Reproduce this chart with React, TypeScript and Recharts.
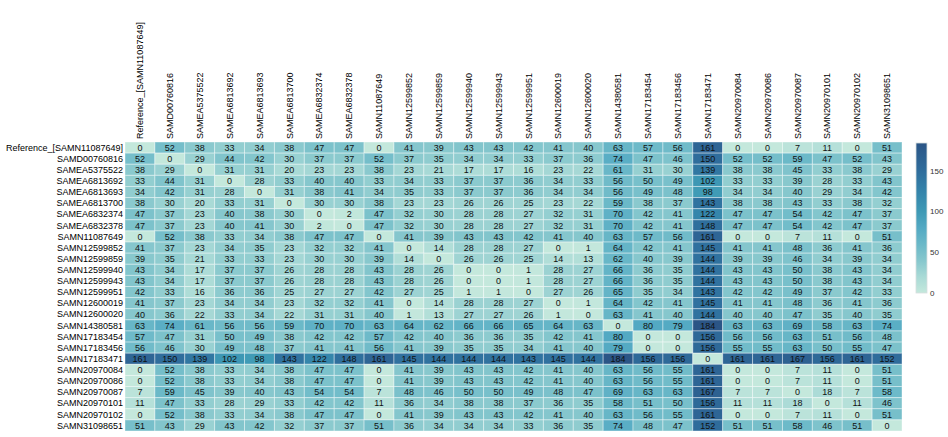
import { ScatterChart, Scatter, XAxis, YAxis } from 'recharts';

const samples = [
  'Reference_[SAMN11087649]', 'SAMD00760816', 'SAMEA5375522', 'SAMEA6813692', 'SAMEA6813693',
  'SAMEA6813700', 'SAMEA6832374', 'SAMEA6832378', 'SAMN11087649', 'SAMN12599852',
  'SAMN12599859', 'SAMN12599940', 'SAMN12599943', 'SAMN12599951', 'SAMN12600019',
  'SAMN12600020', 'SAMN14380581', 'SAMN17183454', 'SAMN17183456', 'SAMN17183471',
  'SAMN20970084', 'SAMN20970086', 'SAMN20970087', 'SAMN20970101', 'SAMN20970102',
  'SAMN31098651',
];

// pairwise SNP distances, one row per sample
const distances = [
  [0, 52, 38, 33, 34, 38, 47, 47, 0, 41, 39, 43, 43, 42, 41, 40, 63, 57, 56, 161, 0, 0, 7, 11, 0, 51],
  [52, 0, 29, 44, 42, 30, 37, 37, 52, 37, 35, 34, 34, 33, 37, 36, 74, 47, 46, 150, 52, 52, 59, 47, 52, 43],
  [38, 29, 0, 31, 31, 20, 23, 23, 38, 23, 21, 17, 17, 16, 23, 22, 61, 31, 30, 139, 38, 38, 45, 33, 38, 29],
  [33, 44, 31, 0, 28, 33, 40, 40, 33, 34, 33, 37, 37, 36, 34, 33, 56, 50, 49, 102, 33, 33, 39, 28, 33, 43],
  [34, 42, 31, 28, 0, 31, 38, 41, 34, 35, 33, 37, 37, 36, 34, 34, 56, 49, 48, 98, 34, 34, 40, 29, 34, 42],
  [38, 30, 20, 33, 31, 0, 30, 30, 38, 23, 23, 26, 26, 25, 23, 22, 59, 38, 37, 143, 38, 38, 43, 33, 38, 32],
  [47, 37, 23, 40, 38, 30, 0, 2, 47, 32, 30, 28, 28, 27, 32, 31, 70, 42, 41, 122, 47, 47, 54, 42, 47, 37],
  [47, 37, 23, 40, 41, 30, 2, 0, 47, 32, 30, 28, 28, 27, 32, 31, 70, 42, 41, 148, 47, 47, 54, 42, 47, 37],
  [0, 52, 38, 33, 34, 38, 47, 47, 0, 41, 39, 43, 43, 42, 41, 40, 63, 57, 56, 161, 0, 0, 7, 11, 0, 51],
  [41, 37, 23, 34, 35, 23, 32, 32, 41, 0, 14, 28, 28, 27, 0, 1, 64, 42, 41, 145, 41, 41, 48, 36, 41, 36],
  [39, 35, 21, 33, 33, 23, 30, 30, 39, 14, 0, 26, 26, 25, 14, 13, 62, 40, 39, 144, 39, 39, 46, 34, 39, 34],
  [43, 34, 17, 37, 37, 26, 28, 28, 43, 28, 26, 0, 0, 1, 28, 27, 66, 36, 35, 144, 43, 43, 50, 38, 43, 34],
  [43, 34, 17, 37, 37, 26, 28, 28, 43, 28, 26, 0, 0, 1, 28, 27, 66, 36, 35, 144, 43, 43, 50, 38, 43, 34],
  [42, 33, 16, 36, 36, 25, 27, 27, 42, 27, 25, 1, 1, 0, 27, 26, 65, 35, 34, 143, 42, 42, 49, 37, 42, 33],
  [41, 37, 23, 34, 34, 23, 32, 32, 41, 0, 14, 28, 28, 27, 0, 1, 64, 42, 41, 145, 41, 41, 48, 36, 41, 36],
  [40, 36, 22, 33, 34, 22, 31, 31, 40, 1, 13, 27, 27, 26, 1, 0, 63, 41, 40, 144, 40, 40, 47, 35, 40, 35],
  [63, 74, 61, 56, 56, 59, 70, 70, 63, 64, 62, 66, 66, 65, 64, 63, 0, 80, 79, 184, 63, 63, 69, 58, 63, 74],
  [57, 47, 31, 50, 49, 38, 42, 42, 57, 42, 40, 36, 36, 35, 42, 41, 80, 0, 0, 156, 56, 56, 63, 51, 56, 48],
  [56, 46, 30, 49, 48, 37, 41, 41, 56, 41, 39, 35, 35, 34, 41, 40, 79, 0, 0, 156, 55, 55, 63, 50, 55, 47],
  [161, 150, 139, 102, 98, 143, 122, 148, 161, 145, 144, 144, 144, 143, 145, 144, 184, 156, 156, 0, 161, 161, 167, 156, 161, 152],
  [0, 52, 38, 33, 34, 38, 47, 47, 0, 41, 39, 43, 43, 42, 41, 40, 63, 56, 55, 161, 0, 0, 7, 11, 0, 51],
  [0, 52, 38, 33, 34, 38, 47, 47, 0, 41, 39, 43, 43, 42, 41, 40, 63, 56, 55, 161, 0, 0, 7, 11, 0, 51],
  [7, 59, 45, 39, 40, 43, 54, 54, 7, 48, 46, 50, 50, 49, 48, 47, 69, 63, 63, 167, 7, 7, 0, 18, 7, 58],
  [11, 47, 33, 28, 29, 33, 42, 42, 11, 36, 34, 38, 38, 37, 36, 35, 58, 51, 50, 156, 11, 11, 18, 0, 11, 46],
  [0, 52, 38, 33, 34, 38, 47, 47, 0, 41, 39, 43, 43, 42, 41, 40, 63, 56, 55, 161, 0, 0, 7, 11, 0, 51],
  [51, 43, 29, 43, 42, 32, 37, 37, 51, 36, 34, 34, 34, 33, 36, 35, 74, 48, 47, 152, 51, 51, 58, 46, 51, 0],
];

const colorbarTicks = [0, 50, 100, 150];
const maxValue = 184;

const stops: [number, number[]][] = [
  [0, [196, 232, 220]],
  [20, [169, 218, 214]],
  [40, [134, 199, 205]],
  [60, [106, 184, 200]],
  [80, [83, 169, 195]],
  [100, [62, 153, 181]],
  [125, [52, 131, 170]],
  [150, [47, 109, 156]],
  [184, [43, 85, 134]],
];

function colorFor(v: number) {
  for (let i = 1; i < stops.length; i++) {
    const [v1, c1] = stops[i];
    const [v0, c0] = stops[i - 1];
    if (v <= v1) {
      const t = (v - v0) / (v1 - v0);
      const c = c0.map((a, k) => Math.round(a + (c1[k] - a) * t));
      return `rgb(${c[0]},${c[1]},${c[2]})`;
    }
  }
  const c = stops[stops.length - 1][1];
  return `rgb(${c[0]},${c[1]},${c[2]})`;
}

const W = 948;
const H = 437;
const margin = { top: 0, right: 46, bottom: 6, left: 0 };
const yAxisW = 125;
const xAxisH = 142;
const plotW = W - margin.right - yAxisW;
const plotH = H - margin.bottom - xAxisH;
const n = samples.length;
const cellW = plotW / n;
const cellH = plotH / n;

const cells = distances.flatMap((row, r) =>
  row.map((v, c) => ({ x: c + 0.5, y: r + 0.5, v }))
);
const ticks = samples.map((_, i) => i + 0.5);
const font = '"Liberation Sans", Arial, sans-serif';

const CellShape = (props: any) => {
  const { cx, cy, payload } = props;
  return (
    <g>
      <rect
        x={cx - cellW / 2}
        y={cy - cellH / 2}
        width={cellW}
        height={cellH}
        fill={colorFor(payload.v)}
        stroke="rgba(255,255,255,0.4)"
        strokeWidth={1}
      />
      <text x={cx} y={cy} dy="0.36em" textAnchor="middle" fontSize={9} fontFamily={font} fill="#111">
        {payload.v}
      </text>
    </g>
  );
};

const ColTick = (props: any) => {
  const { x, y, payload } = props;
  return (
    <text
      x={x}
      y={y}
      dy="0.35em"
      transform={`rotate(-90, ${x}, ${y})`}
      textAnchor="start"
      fontSize={9}
      fontFamily={font}
      fill="#000"
    >
      {samples[Math.floor(payload.value)]}
    </text>
  );
};

// colour bar on the right
const barX = 916;
const barW = 11;
const barTop = 143;
const barH = 150;

function ColorBar() {
  return (
    <svg width={W} height={H} style={{ position: 'absolute', left: 0, top: 0, pointerEvents: 'none' }}>
      <defs>
        <linearGradient id="cbar" x1="0" y1="1" x2="0" y2="0">
          {stops.map(([v, c]) => (
            <stop key={v} offset={v / maxValue} stopColor={`rgb(${c[0]},${c[1]},${c[2]})`} />
          ))}
        </linearGradient>
      </defs>
      <rect x={barX} y={barTop} width={barW} height={barH} fill="url(#cbar)" stroke="#d8dede" strokeWidth={0.8} />
      {colorbarTicks.map((t) => (
        <text
          key={t}
          x={barX + barW + 3}
          y={barTop + barH - (t / maxValue) * barH}
          dy="0.35em"
          fontSize={8}
          fontFamily={font}
          fill="#333"
        >
          {t}
        </text>
      ))}
    </svg>
  );
}

export default function App() {
  return (
    <div style={{ position: 'absolute', left: 0, top: 0, width: W, height: H, background: '#fff' }}>
      <ScatterChart width={W} height={H} margin={margin}>
        <XAxis
          type="number"
          dataKey="x"
          orientation="top"
          domain={[0, n]}
          ticks={ticks}
          interval={0}
          height={xAxisH}
          axisLine={false}
          tickLine={false}
          tickSize={0}
          tickMargin={3}
          tick={<ColTick />}
        />
        <YAxis
          type="number"
          dataKey="y"
          reversed
          domain={[0, n]}
          ticks={ticks}
          interval={0}
          width={yAxisW}
          axisLine={false}
          tickLine={false}
          tickSize={0}
          tickMargin={2}
          tickFormatter={(v: number) => samples[Math.floor(v)]}
          tick={{ fontSize: 9, fontFamily: font, fill: '#000' }}
        />
        <Scatter data={cells} shape={<CellShape />} isAnimationActive={false} />
      </ScatterChart>
      <ColorBar />
    </div>
  );
}
